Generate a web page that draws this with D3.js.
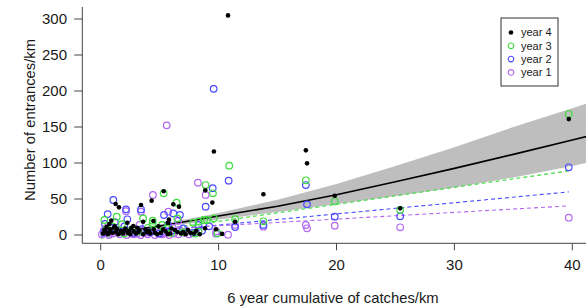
<!DOCTYPE html>
<html>
<head>
<meta charset="utf-8">
<script src="https://cdn.jsdelivr.net/npm/d3@7"></script>
<style>
  body { margin: 0; background: #fff; }
  svg { display: block; font-family: "Liberation Sans", Arial, sans-serif; }
  .axis-line { stroke: #444; stroke-width: 1; fill: none; }
  .tick-label { font-size: 15px; fill: #1a1a1a; }
  .axis-title { font-size: 14.8px; fill: #1a1a1a; }
  .legend-label { font-size: 11px; fill: #1a1a1a; }
</style>
</head>
<body>
<script>
// year 4 (black dots), [cumulative catches/km, entrances/km]
const year4 = [
  [10.8, 305], [9.6, 116], [13.8, 56.5], [17.4, 117.6], [17.5, 99.5], [19.85, 54.6], [25.4, 37], [39.7, 161],
  [8.87, 62], [9.47, 45], [9.78, 8], [10.3, 1.5], [11.4, 18.5], [1.27, 43], [1.55, 38.4], [3.42, 41.7],
  [4.32, 47.7], [5.34, 60.7], [6.16, 42.6], [6.64, 39.4], [5.79, 21.3], [2.77, 12.5], [3.6, 18.5], [4.47, 19.4],
  [2.26, 17], [0.73, 15.3], [5.7, 17], [8.85, 9.3], [7.4, 7],
  [0.2, 2], [0.4, 5], [0.6, 1], [0.8, 8], [1.0, 3], [1.1, 10], [1.3, 4], [1.5, 1], [1.7, 6], [1.9, 2],
  [2.1, 9], [2.3, 3], [2.5, 1], [2.8, 5], [3.0, 2], [3.3, 7], [3.6, 1], [3.9, 4], [4.2, 2], [4.5, 8],
  [4.8, 1], [5.1, 3], [5.5, 5], [5.9, 2], [6.3, 7], [6.8, 2], [7.2, 1], [7.6, 3], [8.1, 6], [1.2, 12],
  [0.9, 20], [3.1, 10], [4.9, 12], [0.5, 11], [2.0, 6], [6.0, 9], [7.0, 4],
  [0.3, 7], [0.7, 3], [1.4, 8], [1.8, 4], [2.4, 6], [2.6, 10], [3.2, 4], [3.8, 8], [4.1, 6], [4.6, 3],
  [5.3, 8], [5.7, 1], [6.5, 4], [7.9, 2], [8.4, 1]
];

// year 3 (green circles)
const year3 = [
  [39.7, 168], [17.4, 76], [19.85, 46.8], [25.4, 34.7], [13.8, 19], [10.9, 96.3], [8.9, 69.4], [9.52, 57.9],
  [9.6, 23.1], [9.9, 2.3], [11.4, 22], [5.34, 57.9], [6.44, 44.9], [6.5, 23.1], [0.31, 20.8], [1.36, 25.4],
  [3.6, 23], [4.41, 19.9], [8.3, 18.5], [9.0, 20.8], [7.85, 17], [4.4, 16], [8.3, 4.6], [8.76, 20.8],
  [0.5, 8], [1.0, 12], [1.8, 15], [2.5, 6], [3.2, 5], [4.0, 10], [4.8, 6], [5.6, 9], [6.0, 3], [7.0, 4],
  [8.0, 2], [2.0, 2], [5.2, 14]
];

// year 2 (blue circles)
const year2 = [
  [39.7, 94], [17.4, 69.4], [17.5, 42.6], [19.85, 25.5], [25.4, 26], [13.8, 14], [9.58, 203], [10.85, 75.5],
  [9.5, 65], [8.9, 39.4], [11.4, 11], [1.07, 48.6], [0.59, 29], [2.15, 35.6], [3.42, 35.5], [5.37, 27.8],
  [6.16, 30], [6.72, 28], [2.26, 21.8], [0.36, 15.3], [8.3, 13.9], [5.7, 13.9],
  [0.3, 4], [0.8, 10], [1.5, 6], [2.0, 12], [2.8, 3], [3.5, 8], [4.2, 4], [5.0, 2], [6.0, 6], [7.0, 9],
  [7.8, 3], [8.6, 6], [9.2, 12], [1.2, 18]
];

// year 1 (purple circles)
const year1 = [
  [39.7, 24], [17.4, 13.9], [17.5, 9.3], [19.85, 13], [25.4, 10.7], [13.8, 11.5], [5.6, 152.3], [8.25, 72.7],
  [8.9, 55.6], [10.8, 0.4], [9.78, 1.8], [11.4, 14], [2.15, 33], [3.42, 32.4], [4.43, 55.6], [5.73, 32.4],
  [6.58, 19.9], [8.3, 6], [9.8, 5], [6.7, 7],
  [0.1, 1], [0.4, 3], [0.7, 0], [1.0, 2], [1.3, 5], [1.6, 1], [1.9, 3], [2.2, 0], [2.5, 4], [2.8, 1],
  [3.1, 2], [3.4, 0], [3.7, 3], [4.0, 1], [4.3, 5], [4.6, 0], [4.9, 2], [5.2, 1], [5.5, 4], [5.8, 0],
  [6.2, 2], [7.5, 1], [8.0, 3], [0.5, 10], [2.9, 8], [3.3, 14], [6.1, 10], [7.1, 3],
  [0.25, 6], [0.85, 4], [1.45, 7], [2.05, 5], [2.65, 2], [3.55, 6], [4.15, 3], [4.75, 6], [5.35, 2], [6.6, 1]
];

// overall fit (year 4) with confidence band
const fitX = [0, 5, 10, 15, 20, 25, 30, 35, 40, 41.5];
const fitY = [0.5, 12.5, 26.5, 40, 56, 74, 92.5, 112, 132, 138];
const fitLo = [-0.5, 10.5, 21.5, 32, 43, 54, 66, 80, 96, 101];
const fitHi = [1.5, 14.5, 30.5, 49, 71, 96, 122, 150, 176, 184];

// per-year dashed fits
const lineNames = ["year 3", "year 2", "year 1"];
const lineIntercepts = [-4.6, -1.7, 3.5];
const lineSlopes = [2.36, 1.55, 0.93];
const lineRangeX = [0, 39.7];

const xTicks = [0, 10, 20, 30, 40];
const yTicks = [0, 50, 100, 150, 200, 250, 300];
const legendNames = ["year 4", "year 3", "year 2", "year 1"];

const colors = {
  "year 4": "#000",
  "year 3": "#3fdc3f",
  "year 2": "#4a4aff",
  "year 1": "#b266f2"
};

const W = 586, H = 308;
const svg = d3.select("body").append("svg")
  .attr("width", W)
  .attr("height", H);

const x = d3.scaleLinear().domain([0, 40]).range([100.7, 572.3]);
const y = d3.scaleLinear().domain([0, 300]).range([235, 19]);

const axisLeftX = 82.3, axisBottomY = 243.3, plotTop = 7;

// confidence band
const band = d3.area()
  .x((d, i) => x(fitX[i]))
  .y0((d, i) => y(fitLo[i]))
  .y1((d, i) => y(fitHi[i]));
svg.append("path")
  .datum(fitX)
  .attr("d", band)
  .attr("fill", "#bebebe");

// dashed year lines
lineNames.forEach((name, i) => {
  const pts = lineRangeX.map(v => [v, lineIntercepts[i] + lineSlopes[i] * v]);
  svg.append("path")
    .datum(pts)
    .attr("d", d3.line().x(d => x(d[0])).y(d => y(d[1])))
    .attr("fill", "none")
    .attr("stroke", colors[name])
    .attr("stroke-width", 1.1)
    .attr("stroke-dasharray", "4,3");
});

// solid fit line
svg.append("path")
  .datum(fitX)
  .attr("d", d3.line().x((d, i) => x(fitX[i])).y((d, i) => y(fitY[i])))
  .attr("fill", "none")
  .attr("stroke", "#000")
  .attr("stroke-width", 1.6);

// points: open circles first, then filled dots for year 4
const openSeries = [["year 1", year1], ["year 2", year2], ["year 3", year3]];
openSeries.forEach(([name, data]) => {
  svg.append("g").selectAll("circle")
    .data(data)
    .enter()
    .append("circle")
      .attr("cx", d => x(d[0]))
      .attr("cy", d => y(d[1]))
      .attr("r", 3.3)
      .attr("fill", "none")
      .attr("stroke", colors[name])
      .attr("stroke-width", 1.2);
});
svg.append("g").selectAll("circle")
  .data(year4)
  .enter()
  .append("circle")
    .attr("cx", d => x(d[0]))
    .attr("cy", d => y(d[1]))
    .attr("r", 2.3)
    .attr("fill", "#000");

// axes (L-shaped box like R's bty="l")
svg.append("path")
  .attr("class", "axis-line")
  .attr("d", "M" + axisLeftX + "," + plotTop + "V" + axisBottomY + "H" + W);

svg.selectAll("line.ytick")
  .data(yTicks)
  .enter()
  .append("line")
    .attr("class", "axis-line")
    .attr("x1", axisLeftX - 8).attr("x2", axisLeftX)
    .attr("y1", d => y(d)).attr("y2", d => y(d));

svg.selectAll("text.ylab")
  .data(yTicks)
  .enter()
  .append("text")
    .attr("class", "tick-label")
    .attr("x", 67)
    .attr("y", d => y(d))
    .attr("dy", "0.36em")
    .attr("text-anchor", "end")
    .text(d => d);

svg.selectAll("line.xtick")
  .data(xTicks)
  .enter()
  .append("line")
    .attr("class", "axis-line")
    .attr("x1", d => x(d)).attr("x2", d => x(d))
    .attr("y1", axisBottomY).attr("y2", axisBottomY + 7);

svg.selectAll("text.xlab")
  .data(xTicks)
  .enter()
  .append("text")
    .attr("class", "tick-label")
    .attr("x", d => x(d))
    .attr("y", 270)
    .attr("text-anchor", "middle")
    .text(d => d);

svg.append("text")
  .attr("class", "axis-title")
  .attr("x", 333)
  .attr("y", 303)
  .attr("text-anchor", "middle")
  .text("6 year cumulative of catches/km");

svg.append("text")
  .attr("class", "axis-title")
  .attr("transform", "translate(35,120) rotate(-90)")
  .attr("text-anchor", "middle")
  .text("Number of entrances/km");

// legend
const legend = svg.append("g").attr("transform", "translate(501,18)");
legend.append("rect")
  .attr("width", 57)
  .attr("height", 68)
  .attr("fill", "#fff")
  .attr("stroke", "#333")
  .attr("stroke-width", 1);

const item = legend.selectAll("g.item")
  .data(legendNames)
  .enter()
  .append("g")
    .attr("transform", (d, i) => "translate(10," + (14.5 + i * 13.3) + ")");

item.append("circle")
  .attr("r", d => d === "year 4" ? 2.3 : 2.8)
  .attr("fill", d => d === "year 4" ? "#000" : "none")
  .attr("stroke", d => d === "year 4" ? "none" : colors[d])
  .attr("stroke-width", 1.1);

item.append("text")
  .attr("class", "legend-label")
  .attr("x", 10)
  .attr("dy", "0.36em")
  .text(d => d);
</script>
</body>
</html>
